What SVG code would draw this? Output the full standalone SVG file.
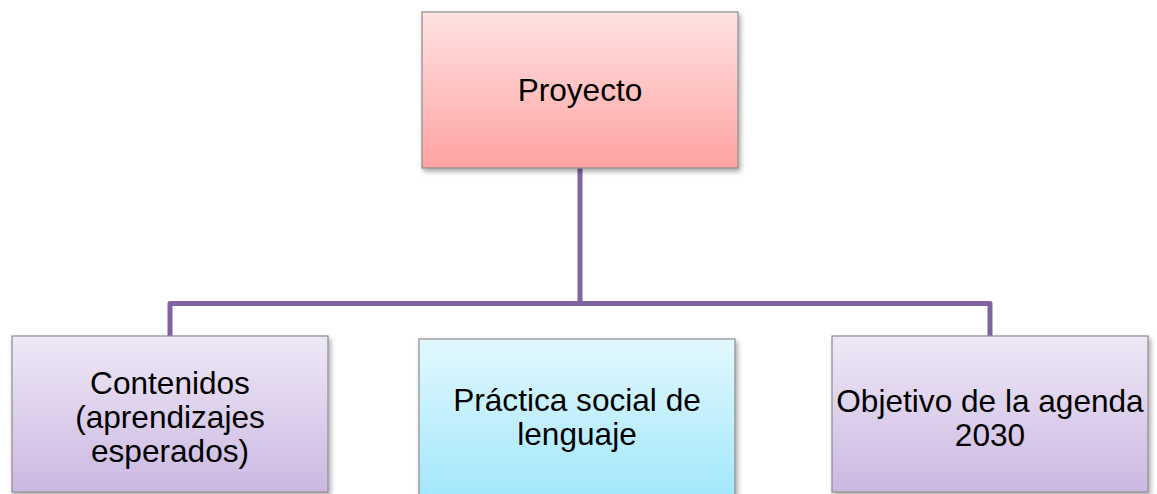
<svg xmlns="http://www.w3.org/2000/svg" width="1157" height="494" viewBox="0 0 1157 494">
  <defs>
    <linearGradient id="gPink" x1="0" y1="0" x2="0" y2="1">
      <stop offset="0" stop-color="#FFE2E2"/>
      <stop offset="1" stop-color="#FFA3A3"/>
    </linearGradient>
    <linearGradient id="gLav" x1="0" y1="0" x2="0" y2="1">
      <stop offset="0" stop-color="#EEE8F6"/>
      <stop offset="1" stop-color="#CCB8E2"/>
    </linearGradient>
    <linearGradient id="gCyan" x1="0" y1="0" x2="0" y2="1">
      <stop offset="0" stop-color="#E2F8FE"/>
      <stop offset="1" stop-color="#A2E7FB"/>
    </linearGradient>
    <filter id="shadow" x="-5%" y="-5%" width="112%" height="115%">
      <feDropShadow dx="2" dy="3" stdDeviation="2.5" flood-color="#000" flood-opacity="0.35"/>
    </filter>
  </defs>
  <style>
    .box { stroke: #8C8C8C; stroke-width: 1.2; filter: url(#shadow); }
    .lbl { font-family: "Liberation Sans", Arial, sans-serif; font-size: 31.6px; fill: #000; text-anchor: middle; }
    .conn { fill: none; stroke: #8064A2; stroke-width: 5; stroke-linejoin: round; }
  </style>
  <rect width="1157" height="494" fill="#FFFFFF"/>
  <g id="connectors">
    <path class="conn" d="M580 168 V303.5"/>
    <path class="conn" d="M170 337 V303.5 H990 V337"/>
  </g>
  <g id="node-proyecto">
    <rect class="box" x="422" y="12" width="316" height="156" fill="url(#gPink)"/>
    <text class="lbl" x="580" y="101">Proyecto</text>
  </g>
  <g id="node-contenidos">
    <rect class="box" x="12" y="336" width="316" height="156" fill="url(#gLav)"/>
    <text class="lbl" x="170" y="394">Contenidos</text>
    <text class="lbl" x="170" y="428">(aprendizajes</text>
    <text class="lbl" x="170" y="462">esperados)</text>
  </g>
  <g id="node-practica">
    <rect class="box" x="419" y="339" width="316" height="160" fill="url(#gCyan)"/>
    <text class="lbl" x="577" y="411">Práctica social de</text>
    <text class="lbl" x="577" y="445">lenguaje</text>
  </g>
  <g id="node-objetivo">
    <rect class="box" x="832" y="336" width="316" height="156" fill="url(#gLav)"/>
    <text class="lbl" x="990" y="412">Objetivo de la agenda</text>
    <text class="lbl" x="990" y="446">2030</text>
  </g>
</svg>
